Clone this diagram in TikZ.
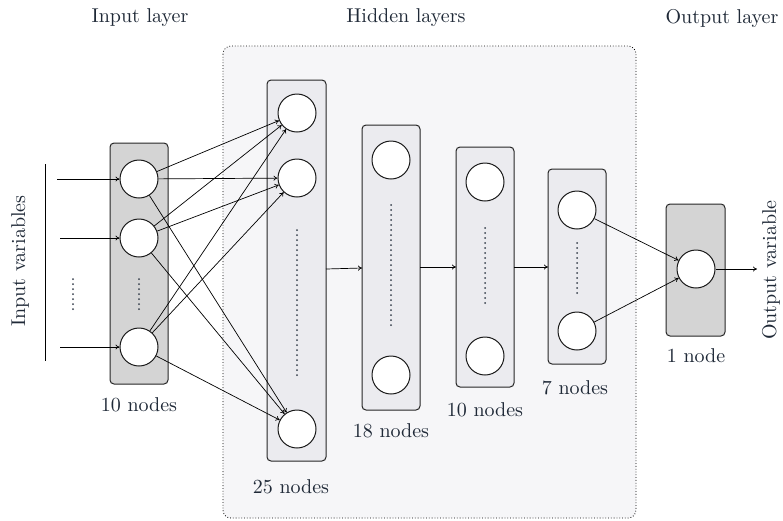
\documentclass[tikz,border=0pt]{standalone}
\usetikzlibrary{arrows.meta}
\definecolor{txt}{HTML}{1F2937}
\definecolor{panel}{HTML}{F6F6F8}
\definecolor{layerfill}{HTML}{EBEBEF}
\definecolor{ioFill}{HTML}{D4D4D4}
\begin{document}
\begin{tikzpicture}[x=1pt,y=-1pt,
  lbl/.style={font=\normalsize, scale=2, text=txt, inner sep=0pt},
  layerbox/.style={draw=black!85, line width=1pt, rounded corners=4pt, fill=layerfill},
  iobox/.style={layerbox, fill=ioFill},
  neuron/.style={circle, draw=black!90, line width=1pt, fill=white, minimum size=38pt, inner sep=0pt},
  conn/.style={-{To[length=4pt,width=5pt]}, line width=0.7pt},
  dotcol/.style={line width=2pt, line cap=round, dash pattern=on 0pt off 5pt, draw=txt!90}]
\useasboundingbox (0,0) rectangle (783,520);
\fill[white] (0,0) rectangle (783,520);

% hidden-layer panel
\draw[dotted, line width=0.8pt, rounded corners=8pt, fill=panel] (223,46) rectangle (636,518);

% titles
\node[lbl] (tin) at (140,18) {Input layer};
\node[lbl] (thid) at (406,18) {Hidden layers};
\node[lbl] (tout) at (722,18) {Output layer};

% layer boxes
\draw[iobox] (110,143) rectangle (168,384);
\draw[layerbox] (267,80) rectangle (326,461);
\draw[layerbox] (362,125) rectangle (420,410);
\draw[layerbox] (456,147) rectangle (514,387);
\draw[layerbox] (548,169) rectangle (606,364);
\draw[iobox] (666,204) rectangle (725,336);

% box anchors for the layer-to-layer arrows
\coordinate (h1r) at (326,269);
\coordinate (h2l) at (362,268);
\coordinate (h2r) at (420,267);
\coordinate (h3l) at (456,267);
\coordinate (h3r) at (514,267);
\coordinate (h4l) at (548,267);

% neurons
\node[neuron] (i1) at (139,179) {};
\node[neuron] (i2) at (139,238) {};
\node[neuron] (i3) at (139,347) {};
\node[neuron] (a1) at (297,113) {};
\node[neuron] (a2) at (297,178) {};
\node[neuron] (a3) at (297,429) {};
\node[neuron] (b1) at (391,160) {};
\node[neuron] (b2) at (391,375) {};
\node[neuron] (c1) at (485,182) {};
\node[neuron] (c2) at (485,356) {};
\node[neuron] (d1) at (577,210) {};
\node[neuron] (d2) at (577,331) {};
\node[neuron] (o1) at (696,269) {};

% elided neurons
\draw[dotcol] (139,279) -- (139,312);
\draw[dotcol] (297,230) -- (297,375);
\draw[dotcol] (391,205) -- (391,327);
\draw[dotcol] (485,228) -- (485,307);
\draw[dotcol] (577,243) -- (577,294);

% input side
\draw[line width=1pt] (45,164) -- (45,361);
\coordinate (x1) at (57,179);
\coordinate (x2) at (60,238);
\coordinate (x3) at (60,347);
\draw[conn] (x1) -- (i1);
\draw[conn] (x2) -- (i2);
\draw[conn] (x3) -- (i3);
\draw[dotcol] (73,279) -- (73,312);
\node[lbl, rotate=90] (invars) at (20,261) {Input variables};

% input layer to first hidden layer
\foreach \s in {i1,i2,i3}
  \foreach \t in {a1,a2,a3}
    \draw[conn] (\s) -- (\t);

% between hidden layers
\draw[conn] (h1r) -- (h2l);
\draw[conn] (h2r) -- (h3l);
\draw[conn] (h3r) -- (h4l);

% last hidden layer to output
\draw[conn] (d1) -- (o1);
\draw[conn] (d2) -- (o1);
\coordinate (y1) at (757,269);
\draw[conn] (o1) -- (y1);
\node[lbl, rotate=90] (outvar) at (771,270) {Output variable};

% layer sizes
\node[lbl] (n0) at (139,405) {10 nodes};
\node[lbl] (n1) at (291,487) {25 nodes};
\node[lbl] (n2) at (391,431) {18 nodes};
\node[lbl] (n3) at (485,410) {10 nodes};
\node[lbl] (n4) at (575,388) {7 nodes};
\node[lbl] (n5) at (696,356) {1 node};
\end{tikzpicture}
\end{document}
